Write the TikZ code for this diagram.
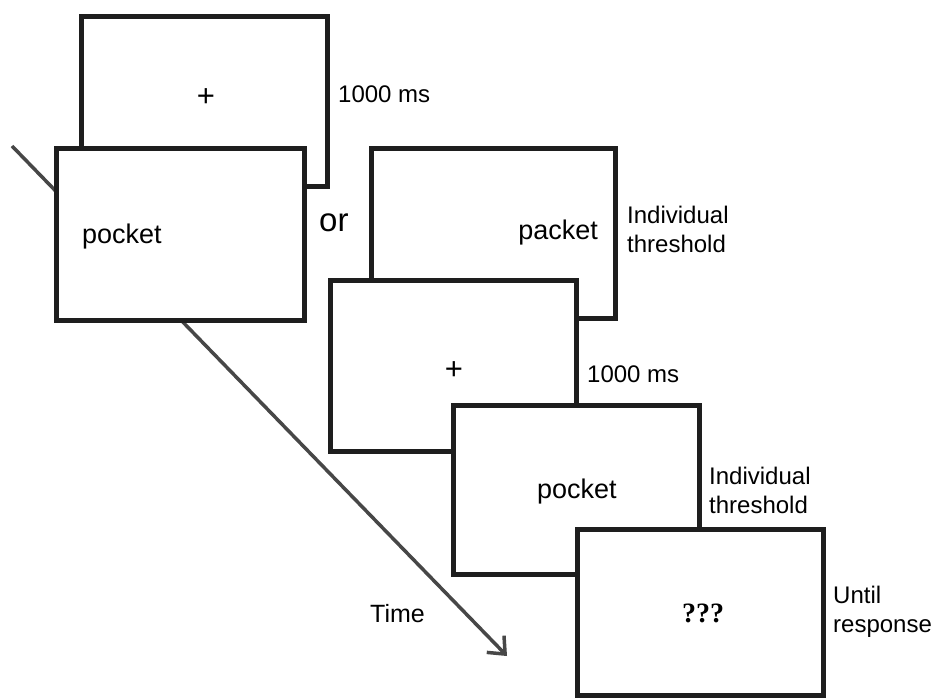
\documentclass[tikz,border=0pt]{standalone}
\usepackage{fontspec}
\setmainfont{Liberation Sans}
\newfontfamily\qfont{Liberation Serif}
\usetikzlibrary{arrows.meta}
\definecolor{framecol}{HTML}{1E1E1E}
\definecolor{arrowcol}{HTML}{474747}
\tikzset{
    screen/.style={draw=framecol, line width=5pt, fill=white, anchor=north west,
        minimum width=246pt, minimum height=170pt, inner sep=0pt},
    lbl/.style={anchor=base west, inner sep=0pt, font=\fontsize{24}{29}\selectfont, align=left},
    word/.style={anchor=base west, inner sep=0pt, font=\fontsize{27}{30}\selectfont},
    timearrow/.style={draw=arrowcol, line width=3.5pt, -{Straight Barb[length=14pt, width=24pt]}}
}
\begin{document}
\begin{tikzpicture}[x=1pt, y=-1pt]
    \useasboundingbox (0,0) rectangle (934,697);

    \coordinate (tstart) at (12,146);
    \coordinate (tend) at (507,656);
    \draw[timearrow] (tstart) -- (tend);
    \node[anchor=base west, inner sep=0pt, font=\fontsize{25}{30}\selectfont] (time) at (370,622) {Time};

    \node[screen] (fixA) at (79,14) {};
    \node[font=\fontsize{31}{34}\selectfont] (plusA) at (206,98) {+};
    \node[lbl] (durA) at (338,102) {1000 ms};

    \node[screen, minimum width=248pt, minimum height=172pt] (wordA) at (54,146) {};
    \node[word] (pocketA) at (82,243) {pocket};

    \node[anchor=base west, inner sep=0pt, font=\fontsize{33}{36}\selectfont] (or) at (319,231) {or};

    \node[screen, minimum width=244pt] (wordB) at (369,146) {};
    \node[word, anchor=base east] (packet) at (598,239) {packet};
    \node[lbl] (thrA) at (627,252) {Individual\\threshold};

    \node[screen, minimum height=171pt] (fixB) at (328,278) {};
    \node[font=\fontsize{31}{34}\selectfont] (plusB) at (454,371) {+};
    \node[lbl] (durB) at (587,382) {1000 ms};

    \node[screen, minimum height=169pt] (wordC) at (451,403) {};
    \node[word] (pocketC) at (537,498) {pocket};
    \node[lbl] (thrB) at (709,513) {Individual\\threshold};

    \node[screen, minimum height=166pt] (query) at (575,527) {};
    \node[anchor=base, inner sep=0pt, font=\qfont\bfseries\fontsize{28}{30}\selectfont] (qmarks) at (703,622) {???};
    \node[lbl] (until) at (833,632) {Until\\response};
\end{tikzpicture}
\end{document}
